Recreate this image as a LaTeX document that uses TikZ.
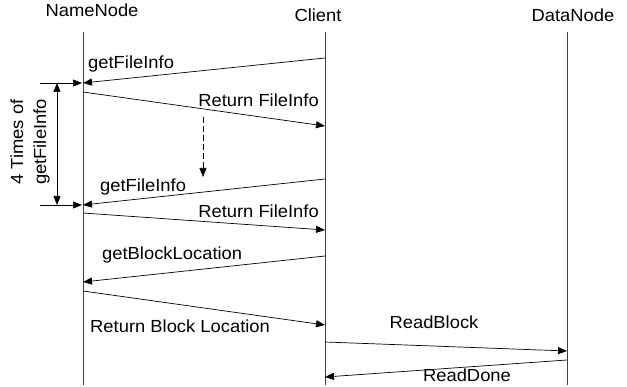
\documentclass[tikz,border=0pt]{standalone}
\usepackage{fontspec}
\setmainfont{Liberation Sans}[FakeStretch=1.05]
\usetikzlibrary{arrows.meta}
\begin{document}
\begin{tikzpicture}[x=1pt,y=-1pt,
  lbl/.style={font=\fontsize{17.5}{23}\selectfont, inner sep=0pt},
  life/.style={line width=0.7pt, black!75},
  msg/.style={line width=0.7pt, -{Triangle[length=9pt,width=7pt]}},
  dbl/.style={line width=0.7pt, {Triangle[length=9pt,width=7pt]}-{Triangle[length=9pt,width=7pt]}}]
\useasboundingbox (0,0) rectangle (627,387);
% headers
\node[lbl, anchor=base] (hN) at (92,17) {NameNode};
\node[lbl, anchor=base] (hC) at (318,22) {Client};
\node[lbl, anchor=base] (hD) at (573,22) {DataNode};
% lifelines
\coordinate (nT) at (83,32); \coordinate (nB) at (83,385);
\coordinate (cT) at (325,32); \coordinate (cB) at (325,385);
\coordinate (dT) at (567,32); \coordinate (dB) at (567,385);
\draw[life] (nT) -- (nB);
\draw[life] (cT) -- (cB);
\draw[life] (dT) -- (dB);
% message endpoints
\coordinate (c1) at (325,58);  \coordinate (n1) at (83,83);
\coordinate (n2) at (83,92);   \coordinate (c2) at (325,126);
\coordinate (c3) at (325,179); \coordinate (n3) at (83,205);
\coordinate (n4) at (83,213);  \coordinate (c4) at (325,230);
\coordinate (c5) at (325,256); \coordinate (n5) at (83,282);
\coordinate (n6) at (83,291);  \coordinate (c6) at (325,325);
\coordinate (c7) at (325,342); \coordinate (d7) at (567,351);
\coordinate (d8) at (567,360); \coordinate (c8) at (325,377);
\draw[msg] (c1) -- (n1);
\draw[msg] (n2) -- (c2);
\draw[msg] (c3) -- (n3);
\draw[msg] (n4) -- (c4);
\draw[msg] (c5) -- (n5);
\draw[msg] (n6) -- (c6);
\draw[msg] (c7) -- (d7);
\draw[msg] (d8) -- (c8);
% labels
\node[lbl, anchor=base west] (l1) at (88,69) {getFileInfo};
\node[lbl, anchor=base east] (l2) at (319,107) {Return FileInfo};
\node[lbl, anchor=base west] (l3) at (100,192) {getFileInfo};
\node[lbl, anchor=base east] (l4) at (319,218) {Return FileInfo};
\node[lbl, anchor=base west] (l5) at (102,260) {getBlockLocation};
\node[lbl, anchor=base west] (l6) at (90,333) {Return Block Location};
\node[lbl, anchor=base] (l7) at (434,329) {ReadBlock};
\node[lbl, anchor=base] (l8) at (467,382) {ReadDone};
% dashed arrow
\coordinate (dsA) at (203,117); \coordinate (dsB) at (203,177);
\draw[msg, dash pattern=on 6pt off 3pt] (dsA) -- (dsB);
% left bracket
\coordinate (t1a) at (40,83); \coordinate (t1b) at (82,83);
\coordinate (t2a) at (40,205); \coordinate (t2b) at (82,205);
\draw[msg] (t1a) -- (t1b);
\draw[msg] (t2a) -- (t2b);
\coordinate (vA) at (57,83); \coordinate (vB) at (57,205);
\draw[dbl] (vA) -- (vB);
\node[lbl, rotate=90, align=center] (side) at (30,142) {4 Times of\\getFileInfo};
\end{tikzpicture}
\end{document}
